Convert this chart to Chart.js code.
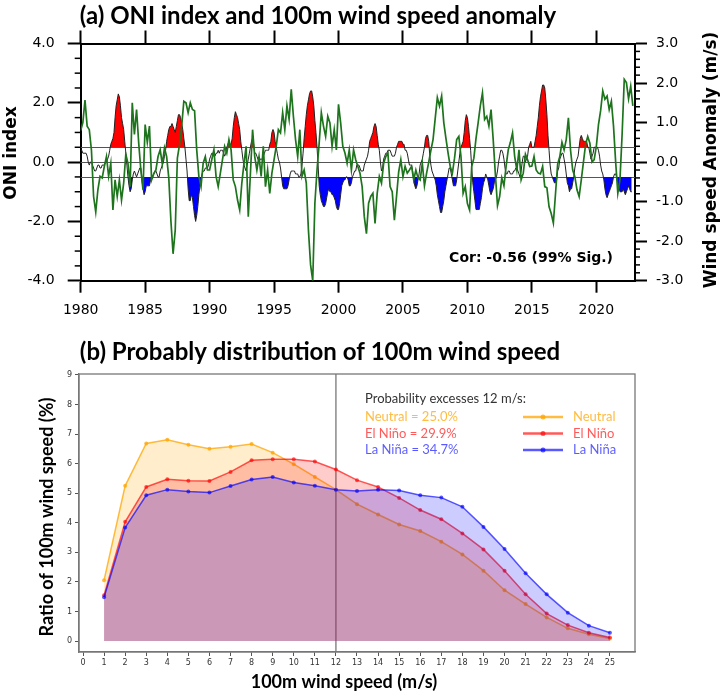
<!DOCTYPE html>
<html>
<head>
<meta charset="utf-8">
<script src="https://cdn.jsdelivr.net/npm/chart.js@4.4.1/dist/chart.umd.min.js"></script>
<style>
  html, body { margin: 0; padding: 0; background: #fff; }
  #wrap { position: relative; width: 724px; height: 694px; }
  #oniChart { position: absolute; left: 0; top: 0; }
  #distChart { position: absolute; left: 0; top: 322px; }
</style>
</head>
<body>
<div id="wrap">
  <canvas id="oniChart" width="724" height="322"></canvas>
  <canvas id="distChart" width="724" height="372"></canvas>
</div>
<script>
// ---- Panel (a): ONI index (monthly, from Jan 1980) ----
const oniStartYear = 1980;
const oniMonthly = [
  0.4, 0.4, 0.3, 0.3, 0.3, 0.3, 0.2, 0.0, -0.1, 0.0, 0.0, -0.1,      // 1980
  -0.2, -0.3, -0.3, -0.2, -0.1, -0.1, -0.2, -0.2, -0.1, -0.1, -0.1, 0.0, // 1981
  0.0, 0.1, 0.2, 0.4, 0.6, 0.7, 0.8, 1.0, 1.5, 1.9, 2.1, 2.3,        // 1982
  2.2, 1.9, 1.5, 1.3, 1.1, 0.7, 0.3, -0.1, -0.5, -0.8, -1.0, -0.9,   // 1983
  -0.6, -0.4, -0.3, -0.4, -0.5, -0.4, -0.3, -0.2, -0.2, -0.6, -0.9, -1.1, // 1984
  -1.0, -0.8, -0.8, -0.8, -0.8, -0.6, -0.5, -0.5, -0.4, -0.3, -0.3, -0.4, // 1985
  -0.5, -0.5, -0.3, -0.2, -0.1, 0.0, 0.2, 0.4, 0.7, 0.9, 1.1, 1.2,   // 1986
  1.2, 1.3, 1.2, 1.1, 1.0, 1.2, 1.4, 1.6, 1.6, 1.5, 1.3, 1.1,        // 1987
  0.8, 0.5, 0.1, -0.3, -0.9, -1.3, -1.3, -1.1, -1.2, -1.5, -1.8, -2.0, // 1988
  -1.8, -1.5, -1.1, -0.8, -0.6, -0.4, -0.3, -0.3, -0.2, -0.2, -0.2, -0.1, // 1989
  0.1, 0.2, 0.3, 0.3, 0.2, 0.2, 0.3, 0.3, 0.4, 0.3, 0.4, 0.4,        // 1990
  0.4, 0.3, 0.2, 0.3, 0.5, 0.6, 0.7, 0.6, 0.6, 0.8, 1.2, 1.5,        // 1991
  1.7, 1.6, 1.5, 1.3, 1.1, 0.7, 0.4, 0.1, -0.1, -0.2, -0.3, -0.1,    // 1992
  0.1, 0.3, 0.5, 0.7, 0.8, 0.6, 0.3, 0.3, 0.2, 0.1, 0.0, 0.1,        // 1993
  0.1, 0.1, 0.2, 0.3, 0.4, 0.4, 0.4, 0.4, 0.6, 0.7, 1.0, 1.1,        // 1994
  1.0, 0.7, 0.5, 0.3, 0.1, 0.0, -0.2, -0.5, -0.8, -0.9, -0.9, -0.9,  // 1995
  -0.9, -0.8, -0.6, -0.4, -0.3, -0.3, -0.3, -0.3, -0.4, -0.4, -0.4, -0.5, // 1996
  -0.5, -0.4, -0.1, 0.3, 0.8, 1.2, 1.6, 1.9, 2.1, 2.3, 2.4, 2.4,     // 1997
  2.2, 1.9, 1.4, 1.0, 0.5, -0.1, -0.8, -1.1, -1.3, -1.4, -1.5, -1.5, // 1998
  -1.4, -1.2, -1.0, -0.9, -1.0, -1.0, -1.1, -1.1, -1.2, -1.3, -1.5, -1.6, // 1999
  -1.6, -1.4, -1.1, -0.8, -0.7, -0.6, -0.6, -0.5, -0.5, -0.6, -0.8, -0.8, // 2000
  -0.7, -0.5, -0.4, -0.3, -0.3, -0.1, -0.1, -0.1, -0.2, -0.3, -0.3, -0.3, // 2001
  -0.1, 0.0, 0.1, 0.2, 0.4, 0.7, 0.8, 0.9, 1.0, 1.2, 1.3, 1.2,       // 2002
  0.9, 0.6, 0.4, 0.0, -0.3, -0.2, 0.1, 0.2, 0.3, 0.3, 0.4, 0.4,      // 2003
  0.4, 0.3, 0.2, 0.2, 0.2, 0.3, 0.5, 0.6, 0.7, 0.7, 0.7, 0.7,        // 2004
  0.6, 0.6, 0.4, 0.4, 0.3, 0.1, -0.1, -0.1, -0.1, -0.3, -0.6, -0.8,  // 2005
  -0.9, -0.8, -0.6, -0.4, -0.1, 0.0, 0.1, 0.3, 0.5, 0.8, 0.9, 0.9,   // 2006
  0.7, 0.2, -0.1, -0.3, -0.4, -0.5, -0.6, -0.8, -1.1, -1.3, -1.5, -1.7, // 2007
  -1.7, -1.5, -1.3, -1.0, -0.8, -0.6, -0.4, -0.2, -0.2, -0.4, -0.6, -0.8, // 2008
  -0.8, -0.8, -0.6, -0.3, 0.0, 0.3, 0.5, 0.6, 0.7, 1.0, 1.4, 1.6,    // 2009
  1.5, 1.2, 0.8, 0.4, -0.2, -0.7, -1.0, -1.3, -1.6, -1.6, -1.6, -1.6, // 2010
  -1.4, -1.2, -0.9, -0.7, -0.6, -0.4, -0.5, -0.6, -0.8, -1.0, -1.1, -1.0, // 2011
  -0.9, -0.7, -0.6, -0.5, -0.3, 0.0, 0.2, 0.4, 0.4, 0.3, 0.1, -0.2,  // 2012
  -0.4, -0.4, -0.3, -0.3, -0.4, -0.4, -0.4, -0.3, -0.3, -0.2, -0.2, -0.3, // 2013
  -0.4, -0.5, -0.3, 0.0, 0.2, 0.2, 0.0, 0.1, 0.2, 0.5, 0.6, 0.7,     // 2014
  0.5, 0.5, 0.5, 0.7, 0.9, 1.2, 1.5, 1.9, 2.2, 2.4, 2.6, 2.6,        // 2015
  2.5, 2.1, 1.6, 0.9, 0.4, -0.1, -0.4, -0.5, -0.6, -0.7, -0.7, -0.6, // 2016
  -0.3, -0.2, 0.1, 0.2, 0.3, 0.3, 0.1, -0.1, -0.4, -0.7, -0.8, -1.0, // 2017
  -0.9, -0.9, -0.7, -0.5, -0.2, 0.0, 0.1, 0.2, 0.5, 0.8, 0.9, 0.8,   // 2018
  0.7, 0.7, 0.7, 0.7, 0.5, 0.5, 0.3, 0.1, 0.2, 0.3, 0.5, 0.5,        // 2019
  0.5, 0.5, 0.4, 0.2, -0.1, -0.3, -0.4, -0.6, -0.9, -1.1, -1.2, -1.1, // 2020
  -1.0, -0.9, -0.8, -0.7, -0.5, -0.4, -0.4, -0.5, -0.7, -0.8, -1.0, -1.0, // 2021
  -1.0, -0.9, -1.0, -1.1, -1.0, -0.9, -0.8, -0.9, -1.0, -1.0         // 2022
];

// 100m wind speed anomaly (m/s), read every two months from Jan 1980
const windStartYear = 1980;
const windStepYears = 1 / 6;
const windAnomaly = [
  0.8, 1.0, 1.57, 0.91, 0.82, 0.3,
  -0.87, -1.26, -0.7, -0.36, -0.4, -0.11,
  0.14, -0.36, -0.03, -1.21, -0.45, -0.87,
  -0.45, -0.96, -0.53, 0.2, -0.03, -0.62,
  1.5, 0.7, 1.33, 0.48, -0.2, -0.7,
  0.95, 0.5, 0.91, -0.45, -0.3, -0.2,
  0.14, 0.31, -0.05, 0.36, 0.14, -0.4,
  -1.5, -2.32, -1.72, 0.1, 0.44, 0.91,
  1.54, 1.5, 1.25, 1.5, 1.33, 1.3,
  0.31, -0.36, -0.62, -0.03, 0.14, -0.2,
  -0.2, 0.06, 0.31, -0.36, -0.62, -0.28,
  0.06, 0.4, 0.23, 0.57, 0.31, -0.45,
  -0.62, -0.96, -1.21, -0.53, -0.03, 0.4,
  -1.38, -0.28, 0.82, 0.14, -0.2, 0.14,
  -0.36, 0.4, -0.62, -0.2, -0.79, -0.28,
  0.06, 0.4, 0.82, 0.74, 1.25, 0.82,
  1.42, 1.08, 1.84, 1.16, 0.57, 0.14,
  0.82, -0.36, -0.2, -0.53, -1.72, -2.6,
  -3.0, -1.04, -0.2, 0.48, 1.25, 0.91,
  0.65, 1.16, 0.99, 0.4, 0.82, 0.31,
  1.46, 0.99, 0.4, 0.23, -0.03, 0.31,
  -0.2, 0.31, 0.06, -0.11, -0.28, -0.62,
  -1.38, -1.81, -1.04, -0.87, -0.79, -1.55,
  -0.79, -0.36, -0.53, -0.03, 0.14, 0.23,
  -0.62, -0.75, -1.47, -0.87, -0.25, 0.06,
  -0.37, -0.11, -0.28, -0.2, -0.11, -0.45,
  -0.2, -0.4, -0.45, -0.03, -0.6, -0.28,
  0.0, 0.3, 0.57, 1.1, 1.63, 1.42,
  1.67, 1.0, 0.6, 0.23, -0.11, -0.28,
  0.1, 0.57, 0.65, 0.14, -0.79, -0.62,
  -1.05, -1.21, -0.11, 0.1, 0.6, 1.0,
  1.42, 1.75, 1.08, 1.16, 0.91, 1.33,
  0.57, -0.3, -1.1, -0.87, -0.4, -0.6,
  -0.11, 0.31, 0.5, 0.74, 0.14, -0.2,
  0.31, -0.45, -0.28, 0.2, 0.06, -0.11,
  -0.1, 0.14, -0.2, -0.28, -0.3, -0.11,
  -0.62, -0.65, -1.13, -1.3, -1.54, -0.8,
  -0.05, 0.14, 0.5, 0.31, 0.57, 1.12,
  0.3, -0.2, -0.37, -0.7, -0.87, -0.45,
  0.0, 0.45, 0.65, 0.48, 0.0, 0.06,
  0.4, 0.95, 1.3, 1.8, 1.59, 1.67,
  1.33, 1.54, 0.91, 0.0, -0.79, -0.45,
  0.7, 2.09, 2.01, 1.6, 1.92, 1.42
];

const yearTicks = [1980, 1985, 1990, 1995, 2000, 2005, 2010, 2015, 2020];
const oniTicks = [-4, -2, 0, 2, 4];
const windTicks = [-3, -2, -1, 0, 1, 2, 3];
const elNinoLevel = 0.5;
const laNinaLevel = -0.5;
const corText = 'Cor: -0.56 (99% Sig.)';

// ---- Panel (b): probability distribution of 100m wind speed ----
const speedBins = [1, 2, 3, 4, 5, 6, 7, 8, 9, 10, 11, 12, 13, 14, 15, 16, 17, 18, 19, 20, 21, 22, 23, 24, 25];
const neutralPct = [2.06, 5.25, 6.68, 6.81, 6.64, 6.50, 6.57, 6.66, 6.37, 5.98, 5.55, 5.12, 4.63, 4.28, 3.94, 3.72, 3.36, 2.93, 2.38, 1.72, 1.25, 0.80, 0.43, 0.23, 0.09];
const elNinoPct  = [1.55, 4.03, 5.21, 5.47, 5.42, 5.41, 5.72, 6.11, 6.15, 6.15, 6.07, 5.80, 5.44, 5.21, 4.84, 4.43, 4.12, 3.64, 3.10, 2.38, 1.58, 0.93, 0.54, 0.28, 0.12];
const laNinaPct  = [1.48, 3.84, 4.93, 5.12, 5.06, 5.02, 5.24, 5.46, 5.55, 5.36, 5.25, 5.12, 5.07, 5.12, 5.09, 4.93, 4.85, 4.54, 3.86, 3.11, 2.29, 1.58, 0.96, 0.52, 0.28];
const speedTicks = [0, 1, 2, 3, 4, 5, 6, 7, 8, 9, 10, 11, 12, 13, 14, 15, 16, 17, 18, 19, 20, 21, 22, 23, 24, 25];
const ratioTicks = [0, 1, 2, 3, 4, 5, 6, 7, 8, 9];
const speedThreshold = 12;
const phaseNames = ['Neutral', 'El Niño', 'La Niña'];
const excessPct = [25.0, 29.9, 34.7];

const phaseLine = ['rgba(255,165,0,0.75)', 'rgba(255,0,0,0.65)', 'rgba(0,0,255,0.65)'];
const phaseFill = ['rgba(255,165,0,0.2)', 'rgba(255,0,0,0.2)', 'rgba(0,0,255,0.2)'];

Chart.defaults.font.family = 'DejaVu Sans';
Chart.defaults.color = '#000';

function setTicks(values) {
  return scale => { scale.ticks = values.map(v => ({ value: v })); };
}

function drawText(ctx, text, x, y, font, color, align, rotate) {
  ctx.save();
  ctx.font = font;
  ctx.fillStyle = color;
  ctx.textAlign = align || 'center';
  ctx.textBaseline = 'middle';
  ctx.translate(x, y);
  if (rotate) ctx.rotate(-Math.PI / 2);
  ctx.fillText(text, 0, 0);
  ctx.restore();
}

// Panel (a) extras: reference lines, minor ticks, titles
const oniExtras = {
  id: 'oniExtras',
  beforeDatasetsDraw(chart) {
    const { ctx, chartArea: a, scales: { y } } = chart;
    ctx.save();
    ctx.strokeStyle = '#555';
    ctx.lineWidth = 1;
    [elNinoLevel, 0, laNinaLevel].forEach(v => {
      const py = Math.round(y.getPixelForValue(v)) + 0.5;
      ctx.beginPath();
      ctx.moveTo(a.left, py);
      ctx.lineTo(a.right, py);
      ctx.stroke();
    });
    ctx.restore();
  },
  afterDraw(chart) {
    const { ctx, chartArea: a, scales: { y, y2 } } = chart;
    ctx.save();
    ctx.strokeStyle = '#000';
    ctx.lineWidth = 1.5;
    for (let i = -8; i <= 8; i++) {
      if (i % 4 === 0) continue;
      const py = y.getPixelForValue(i * 0.5);
      ctx.beginPath(); ctx.moveTo(a.left - 6, py); ctx.lineTo(a.left, py); ctx.stroke();
    }
    for (let i = -15; i <= 15; i++) {
      if (i % 5 === 0) continue;
      const py = y2.getPixelForValue(i * 0.2);
      ctx.beginPath(); ctx.moveTo(a.right, py); ctx.lineTo(a.right + 5, py); ctx.stroke();
    }
    ctx.restore();

    drawText(ctx, '(a) ONI index and 100m wind speed anomaly', 318, 16, 'bold 24px Lato', '#000');
    drawText(ctx, 'ONI index', 12, 153, 'bold 17px "DejaVu Sans"', '#000', 'center', true);
    drawText(ctx, 'Wind speed Anomaly (m/s)', 712, 160, 'bold 17px "DejaVu Sans"', '#000', 'center', true);
    drawText(ctx, corText, 613, 258, 'bold 14px "DejaVu Sans"', '#000', 'right');
  }
};

const oniPoints = oniMonthly.map((v, i) => ({ x: oniStartYear + i / 12, y: v }));
const windPoints = windAnomaly.map((v, i) => ({ x: windStartYear + i * windStepYears, y: v }));

new Chart(document.getElementById('oniChart'), {
  type: 'line',
  data: {
    datasets: [
      {
        label: 'ONI warm', data: oniPoints, yAxisID: 'y', order: 4,
        borderWidth: 0, pointRadius: 0,
        fill: { target: { value: elNinoLevel }, above: '#ff0000', below: 'rgba(0,0,0,0)' }
      },
      {
        label: 'ONI cold', data: oniPoints, yAxisID: 'y', order: 4,
        borderWidth: 0, pointRadius: 0,
        fill: { target: { value: laNinaLevel }, above: 'rgba(0,0,0,0)', below: '#0000ff' }
      },
      {
        label: 'ONI index', data: oniPoints, yAxisID: 'y', order: 2,
        borderColor: '#222', borderWidth: 1, pointRadius: 0, fill: false
      },
      {
        label: 'Wind speed anomaly', data: windPoints, yAxisID: 'y2', order: 1,
        borderColor: '#1d741d', borderWidth: 1.7, pointRadius: 0, fill: false
      }
    ]
  },
  options: {
    responsive: false,
    devicePixelRatio: 1,
    animation: false,
    layout: { padding: 0 },
    plugins: { legend: { display: false }, tooltip: { enabled: false } },
    scales: {
      x: {
        type: 'linear', position: 'bottom', min: 1980, max: 2023,
        afterBuildTicks: setTicks(yearTicks),
        afterFit: s => { s.height = 41.3; },
        ticks: { callback: v => String(v), font: { size: 14 }, padding: 9, maxRotation: 0 },
        grid: { drawOnChartArea: false, tickLength: 12, tickWidth: 2, tickColor: '#000' },
        border: { display: true, color: '#000', width: 2 }
      },
      x2: {
        type: 'linear', position: 'top', min: 1980, max: 2023,
        afterBuildTicks: setTicks(yearTicks),
        afterFit: s => { s.height = 43.5; },
        ticks: { display: false },
        grid: { drawOnChartArea: false, tickLength: 13, tickWidth: 2, tickColor: '#000' },
        border: { display: true, color: '#000', width: 2 }
      },
      y: {
        type: 'linear', position: 'left', min: -4, max: 4,
        afterBuildTicks: setTicks(oniTicks),
        afterFit: s => { s.width = 80.7; },
        ticks: { callback: v => v.toFixed(1), font: { size: 14 }, padding: 13 },
        grid: { drawOnChartArea: false, tickLength: 13, tickWidth: 2, tickColor: '#000' },
        border: { display: true, color: '#000', width: 2 }
      },
      y2: {
        type: 'linear', position: 'right', min: -3, max: 3,
        afterBuildTicks: setTicks(windTicks),
        afterFit: s => { s.width = 89; },
        ticks: { callback: v => v.toFixed(1), font: { size: 14 }, padding: 9 },
        grid: { drawOnChartArea: false, tickLength: 12, tickWidth: 2, tickColor: '#000' },
        border: { display: true, color: '#000', width: 2 }
      }
    }
  },
  plugins: [oniExtras]
});

// Panel (b) extras: frame, 12 m/s marker, titles, annotation and legend
const distExtras = {
  id: 'distExtras',
  beforeDatasetsDraw(chart) {
    const { ctx, chartArea: a, scales: { x } } = chart;
    ctx.save();
    ctx.strokeStyle = '#777';
    ctx.lineWidth = 1.3;
    const px = x.getPixelForValue(speedThreshold);
    ctx.beginPath(); ctx.moveTo(px, a.top); ctx.lineTo(px, a.bottom); ctx.stroke();
    ctx.restore();
  },
  afterDraw(chart) {
    const { ctx, chartArea: a } = chart;
    ctx.save();
    ctx.strokeStyle = '#777';
    ctx.lineWidth = 1.3;
    ctx.strokeRect(a.left, a.top, a.right - a.left, a.bottom - a.top);
    ctx.restore();

    drawText(ctx, '(b) Probably distribution of 100m wind speed', 320, 30, 'bold 24px Lato', '#000');
    drawText(ctx, 'Ratio of 100m wind speed (%)', 47, 195, 'bold 18px Lato', '#000', 'center', true);
    drawText(ctx, '100m wind speed (m/s)', 344, 360, 'bold 18px Lato', '#000');

    drawText(ctx, 'Probability excesses ' + speedThreshold + ' m/s:', 365, 77, '13px Lato', '#333', 'left');
    phaseNames.forEach((name, i) => {
      const rowY = 95 + i * 16.5;
      drawText(ctx, name + ' = ' + excessPct[i].toFixed(1) + '%', 365, rowY, '13px Lato', phaseLine[i], 'left');
      ctx.save();
      ctx.strokeStyle = phaseLine[i];
      ctx.fillStyle = phaseLine[i];
      ctx.lineWidth = 2.5;
      ctx.beginPath(); ctx.moveTo(523, rowY); ctx.lineTo(563, rowY); ctx.stroke();
      ctx.beginPath(); ctx.arc(543, rowY, 2.5, 0, Math.PI * 2); ctx.fill();
      ctx.restore();
      drawText(ctx, name, 573, rowY, '13px Lato', phaseLine[i], 'left');
    });
  }
};

const phaseSeries = [neutralPct, elNinoPct, laNinaPct];
const phaseOrder = [3, 2, 1];

new Chart(document.getElementById('distChart'), {
  type: 'line',
  data: {
    datasets: phaseSeries.map((vals, i) => ({
      label: phaseNames[i],
      data: vals.map((v, j) => ({ x: speedBins[j], y: v })),
      order: phaseOrder[i],
      borderColor: phaseLine[i],
      backgroundColor: phaseFill[i],
      borderWidth: 1.5,
      pointRadius: 2,
      pointBorderWidth: 0,
      pointBackgroundColor: phaseLine[i],
      fill: 'origin',
      tension: 0
    }))
  },
  options: {
    responsive: false,
    devicePixelRatio: 1,
    animation: false,
    layout: { padding: { top: 52, right: 89, left: 0, bottom: 0 } },
    plugins: { legend: { display: false }, tooltip: { enabled: false } },
    scales: {
      x: {
        type: 'linear', min: -0.19, max: 26.19,
        afterBuildTicks: setTicks(speedTicks),
        afterFit: s => { s.height = 42; },
        ticks: { callback: v => String(v), font: { size: 8 }, color: '#333', padding: 2, maxRotation: 0, autoSkip: false },
        grid: { drawOnChartArea: false, tickLength: 4, tickWidth: 1, tickColor: '#555' },
        border: { display: true, color: '#777', width: 1.3 }
      },
      y: {
        type: 'linear', min: -0.37, max: 9.03,
        afterBuildTicks: setTicks(ratioTicks),
        afterFit: s => { s.width = 79; },
        ticks: { callback: v => String(v), font: { size: 8 }, color: '#333', padding: 3 },
        grid: { drawOnChartArea: false, tickLength: 4, tickWidth: 1, tickColor: '#555' },
        border: { display: true, color: '#777', width: 1.3 }
      }
    }
  },
  plugins: [distExtras]
});
</script>
</body>
</html>
